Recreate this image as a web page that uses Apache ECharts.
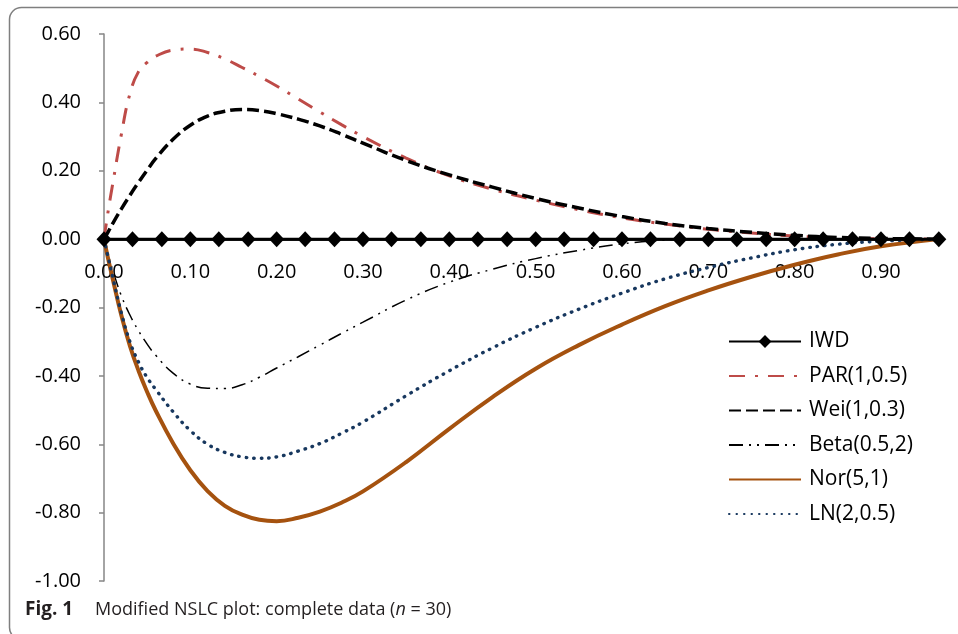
<!DOCTYPE html>
<html>
<head>
<meta charset="utf-8">
<title>Modified NSLC plot</title>
<script src="https://cdn.jsdelivr.net/npm/echarts@6/dist/echarts.min.js"></script>
<style>
  html, body { margin: 0; padding: 0; background: #ffffff; }
  #chart { width: 958px; height: 634px; }
</style>
</head>
<body>
<div id="chart"></div>
<script>
// Plotting positions of the 30 ordered observations (IWD reference line)
const iwdX = [0, 0.033, 0.067, 0.1, 0.133, 0.167, 0.2, 0.233, 0.267, 0.3,
  0.333, 0.367, 0.4, 0.433, 0.467, 0.5, 0.533, 0.567, 0.6, 0.633,
  0.667, 0.7, 0.733, 0.767, 0.8, 0.833, 0.867, 0.9, 0.933, 0.967];
const iwdY = [0, 0, 0, 0, 0, 0, 0, 0, 0, 0, 0, 0, 0, 0, 0,
  0, 0, 0, 0, 0, 0, 0, 0, 0, 0, 0, 0, 0, 0, 0];

// Shared abscissa for the distribution curves (denser near the origin)
const curveX = [0, 0.005, 0.01, 0.02, 0.03, 0.04, 0.05, 0.06, 0.08, 0.1,
  0.12, 0.14, 0.16, 0.18, 0.2, 0.225, 0.25, 0.275, 0.3, 0.35,
  0.4, 0.45, 0.5, 0.55, 0.6, 0.65, 0.7, 0.75, 0.8, 0.85, 0.9, 0.9667];

const parY = [0, 0.085, 0.16, 0.305, 0.425, 0.49, 0.517, 0.535, 0.553, 0.556,
  0.546, 0.527, 0.502, 0.476, 0.448, 0.41, 0.372, 0.335, 0.3, 0.237,
  0.185, 0.146, 0.114, 0.086, 0.062, 0.044, 0.029, 0.018, 0.009, 0.004, 0.001, 0];

const weiY = [0, 0.022, 0.045, 0.088, 0.128, 0.166, 0.202, 0.236, 0.292, 0.333,
  0.36, 0.374, 0.379, 0.376, 0.367, 0.351, 0.331, 0.307, 0.281, 0.23,
  0.188, 0.152, 0.119, 0.091, 0.066, 0.046, 0.031, 0.02, 0.011, 0.005, 0.002, 0];

const betaY = [0, -0.047, -0.09, -0.165, -0.222, -0.268, -0.307, -0.34, -0.392, -0.424,
  -0.436, -0.437, -0.426, -0.404, -0.377, -0.344, -0.31, -0.276, -0.243, -0.178,
  -0.126, -0.088, -0.057, -0.033, -0.014, -0.003, 0, 0, 0, 0, 0, 0];

const norY = [0, -0.06, -0.115, -0.222, -0.312, -0.385, -0.447, -0.502, -0.597, -0.676,
  -0.737, -0.78, -0.806, -0.821, -0.825, -0.815, -0.797, -0.771, -0.738, -0.652,
  -0.555, -0.462, -0.379, -0.31, -0.25, -0.196, -0.15, -0.11, -0.075, -0.045, -0.021, 0];

const lnY = [0, -0.055, -0.11, -0.215, -0.3, -0.36, -0.405, -0.44, -0.505, -0.56,
  -0.6, -0.624, -0.637, -0.641, -0.637, -0.62, -0.598, -0.568, -0.535, -0.458,
  -0.385, -0.318, -0.258, -0.205, -0.158, -0.116, -0.083, -0.055, -0.031, -0.015, -0.006, 0];

const seriesNames = ['IWD', 'PAR(1,0.5)', 'Wei(1,0.3)', 'Beta(0.5,2)', 'Nor(5,1)', 'LN(2,0.5)'];
const xTicks = [0, 0.1, 0.2, 0.3, 0.4, 0.5, 0.6, 0.7, 0.8, 0.9];

const pairs = (xArr, yArr) => xArr.map((x, i) => [x, yArr[i]]);
const FONT = '"Open Sans", "Noto Sans", sans-serif';

const chart = echarts.init(document.getElementById('chart'), null, { renderer: 'canvas' });

function curve(name, ys, color, width, dash, cap) {
  return {
    name: name,
    type: 'line',
    data: pairs(curveX, ys),
    smooth: 0.45,
    symbol: 'none',
    lineStyle: { color: color, width: width, type: dash, cap: cap || 'butt' },
    itemStyle: { color: color },
    emphasis: { disabled: true }
  };
}

// legend entries: the curves show only their line style, IWD keeps its diamond
const legendData = seriesNames.map((n, i) => i === 0
  ? { name: n }
  : { name: n, itemStyle: { opacity: 0 } });

chart.setOption({
  animation: false,
  backgroundColor: '#ffffff',
  grid: { left: 104, top: 34, width: 837.4, height: 547, containLabel: false },
  xAxis: {
    type: 'value',
    min: 0,
    max: 0.97,
    interval: 0.1,
    position: 'bottom',
    offset: -342,
    axisLine: { onZero: false, lineStyle: { color: '#000000', width: 2.5 } },
    axisTick: { show: false },
    splitLine: { show: false },
    axisLabel: {
      margin: 23,
      fontSize: 20,
      fontFamily: FONT,
      color: '#000000',
      formatter: v => xTicks.some(t => Math.abs(t - v) < 1e-6) ? v.toFixed(2) : ''
    }
  },
  yAxis: {
    type: 'value',
    min: -1,
    max: 0.6,
    interval: 0.2,
    axisLine: { show: true, lineStyle: { color: '#868686', width: 1.5 } },
    axisTick: { show: true, inside: false, length: 5, lineStyle: { color: '#868686', width: 1.5 } },
    splitLine: { show: false },
    axisLabel: {
      margin: 23,
      fontSize: 20,
      fontFamily: FONT,
      color: '#000000',
      formatter: v => v.toFixed(2)
    }
  },
  legend: {
    data: legendData,
    orient: 'vertical',
    left: 723,
    top: 326,
    itemWidth: 72,
    itemHeight: 16,
    itemGap: 13.5,
    selectedMode: false,
    textStyle: { fontSize: 21, fontFamily: FONT, color: '#000000', padding: [0, 0, 0, 3] }
  },
  series: [
    {
      name: seriesNames[0],
      type: 'line',
      data: pairs(iwdX, iwdY),
      symbol: 'diamond',
      symbolSize: [15, 16],
      lineStyle: { color: '#000000', width: 3 },
      itemStyle: { color: '#000000' },
      z: 5,
      emphasis: { disabled: true }
    },
    curve(seriesNames[1], parY, '#be4b48', 3, [16, 10, 3, 10]),
    curve(seriesNames[2], weiY, '#000000', 3.5, [12, 5]),
    curve(seriesNames[3], betaY, '#000000', 1.5, [14, 6, 2, 6, 2, 6]),
    curve(seriesNames[4], norY, '#a5520f', 4, 'solid'),
    curve(seriesNames[5], lnY, '#17375e', 3.4, [0.5, 7], 'round')
  ],
  graphic: [
    {
      type: 'rect',
      silent: true,
      shape: { x: 9.5, y: 7.5, width: 1000, height: 632, r: 12 },
      style: { fill: 'none', stroke: '#7f7f7f', lineWidth: 1.5 }
    },
    {
      type: 'text',
      silent: true,
      left: 25,
      top: 600,
      style: {
        text: '{b|Fig. 1}{n|Modified NSLC plot: complete data (}{i|n}{n| = 30)}',
        rich: {
          b: { fontFamily: FONT, fontSize: 19, fontWeight: 'bold', fill: '#231f20', width: 70 },
          n: { fontFamily: FONT, fontSize: 18, fill: '#231f20' },
          i: { fontFamily: FONT, fontSize: 18, fontStyle: 'italic', fill: '#231f20' }
        }
      }
    }
  ]
});
</script>
</body>
</html>
